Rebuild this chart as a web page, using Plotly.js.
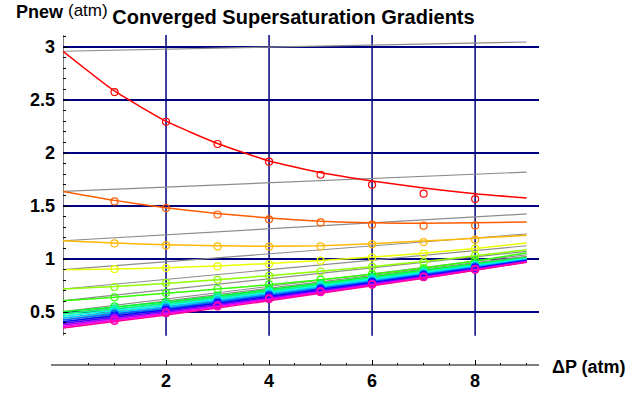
<!DOCTYPE html>
<html>
<head>
<meta charset="utf-8">
<script src="https://cdn.plot.ly/plotly-3.0.1.min.js"></script>
<style>html,body{margin:0;padding:0;background:#fff;}#chart{width:641px;height:396px;}</style>
</head>
<body>
<div id="chart"></div>
<script>
// ---------- data ----------
const dP    = [0, 1, 2, 3, 4, 5, 6, 7, 8, 9];      // fitted curve abscissae
const dPpts = [1, 2, 3, 4, 5, 6, 7, 8];            // computed points
const grayX = [0, 9];

const colors = ['#FF0000','#FF5C00','#FFB800','#EBFF00','#8FFF00','#33FF00','#00FF29','#00FF85',
                '#00FFE0','#00C2FF','#0066FF','#000AFF','#5200FF','#AD00FF','#FF00F5','#FF0099'];

const fit1  = [2.96, 2.585, 2.30, 2.09, 1.925, 1.815, 1.735, 1.67, 1.615, 1.575];
const fit2  = [1.638, 1.553, 1.483, 1.43, 1.387, 1.356, 1.341, 1.337, 1.341, 1.349];
const fit3  = [1.172, 1.15, 1.135, 1.125, 1.12, 1.125, 1.145, 1.17, 1.195, 1.223];
const fit4  = [0.899, 0.905, 0.918, 0.935, 0.958, 0.986, 1.018, 1.055, 1.10, 1.151];
const fit5  = [0.717, 0.74, 0.77, 0.805, 0.843, 0.884, 0.928, 0.977, 1.03, 1.088];
const fit6  = [0.607, 0.64, 0.677, 0.716, 0.758, 0.804, 0.855, 0.915, 0.982, 1.057];
const fit7  = [0.503, 0.548, 0.594, 0.652, 0.712, 0.772, 0.832, 0.893, 0.955, 1.015];
const fit8  = [0.482, 0.53, 0.578, 0.637, 0.698, 0.758, 0.82, 0.882, 0.945, 1.008];
const fit9  = [0.462, 0.513, 0.563, 0.623, 0.684, 0.746, 0.809, 0.872, 0.937, 1.002];
const fit10 = [0.443, 0.496, 0.548, 0.609, 0.671, 0.734, 0.798, 0.863, 0.929, 0.996];
const fit11 = [0.425, 0.48, 0.534, 0.596, 0.659, 0.723, 0.788, 0.854, 0.921, 0.99];
const fit12 = [0.408, 0.465, 0.52, 0.583, 0.647, 0.712, 0.778, 0.845, 0.914, 0.985];
const fit13 = [0.392, 0.45, 0.507, 0.571, 0.636, 0.702, 0.769, 0.837, 0.907, 0.98];
const fit14 = [0.377, 0.436, 0.495, 0.56, 0.626, 0.693, 0.761, 0.83, 0.901, 0.976];
const fit15 = [0.363, 0.423, 0.483, 0.549, 0.616, 0.684, 0.753, 0.823, 0.895, 0.973];
const fit16 = [0.349, 0.41, 0.472, 0.538, 0.606, 0.676, 0.747, 0.819, 0.893, 0.97];

const pts1  = [2.575, 2.295, 2.085, 1.918, 1.795, 1.70, 1.616, 1.565];
const pts2  = [1.543, 1.48, 1.42, 1.374, 1.345, 1.324, 1.314, 1.317];
const pts3  = [1.147, 1.128, 1.119, 1.116, 1.119, 1.138, 1.16, 1.182];
const pts4  = [0.905, 0.915, 0.93, 0.953, 0.984, 1.015, 1.05, 1.097];
const pts5  = [0.736, 0.774, 0.804, 0.842, 0.882, 0.925, 0.97, 1.035];
const pts6  = [0.638, 0.679, 0.717, 0.76, 0.805, 0.855, 0.912, 0.99];
const pts7  = [0.553, 0.596, 0.655, 0.715, 0.772, 0.835, 0.895, 0.962];
const pts8  = [0.535, 0.58, 0.64, 0.70, 0.76, 0.822, 0.885, 0.95];
const pts9  = [0.518, 0.566, 0.626, 0.687, 0.748, 0.811, 0.875, 0.94];
const pts10 = [0.50, 0.551, 0.612, 0.674, 0.736, 0.80, 0.866, 0.932];
const pts11 = [0.484, 0.537, 0.599, 0.662, 0.725, 0.79, 0.857, 0.925];
const pts12 = [0.469, 0.523, 0.586, 0.65, 0.715, 0.781, 0.849, 0.918];
const pts13 = [0.455, 0.511, 0.575, 0.64, 0.706, 0.773, 0.841, 0.911];
const pts14 = [0.442, 0.50, 0.565, 0.631, 0.698, 0.766, 0.835, 0.905];
const pts15 = [0.428, 0.492, 0.558, 0.626, 0.692, 0.761, 0.831, 0.902];
const pts16 = [0.415, 0.488, 0.553, 0.622, 0.687, 0.757, 0.828, 0.899];

const grayEnd = [3.047, 1.82, 1.425, 1.236, 1.125, 1.072, 1.04, 1.025, 1.015, 1.005,
                 0.995, 0.99, 0.985, 0.98, 0.975, 0.97];

const xTickVals  = [2, 4, 6, 8];
const xTickText  = ['2', '4', '6', '8'];
const xMinorVals = [0.5, 1, 1.5, 2.5, 3, 3.5, 4.5, 5, 5.5, 6.5, 7, 7.5, 8.5, 9];
const yTickVals  = [0.5, 1, 1.5, 2, 2.5, 3];
const yTickText  = ['0.5', '1', '1.5', '2', '2.5', '3'];
const yMinorVals = [0.3, 0.4, 0.6, 0.7, 0.8, 0.9, 1.1, 1.2, 1.3, 1.4, 1.6, 1.7, 1.8, 1.9,
                    2.1, 2.2, 2.3, 2.4, 2.6, 2.7, 2.8, 2.9, 3.1];

const titleText = 'Converged Supersaturation Gradients';
const yLabelMain = 'Pnew';
const yLabelUnit = '(atm)';
const xLabelText = '\u0394P (atm)';

// ---------- chart ----------
const fits = [fit1, fit2, fit3, fit4, fit5, fit6, fit7, fit8, fit9, fit10, fit11, fit12, fit13, fit14, fit15, fit16];
const ptss = [pts1, pts2, pts3, pts4, pts5, pts6, pts7, pts8, pts9, pts10, pts11, pts12, pts13, pts14, pts15, pts16];

const traces = [];
fits.forEach((f, i) => {
  traces.push({x: grayX, y: [f[0], grayEnd[i]], mode: 'lines', type: 'scatter',
    line: {color: '#8c8c8c', width: 1.2}, hoverinfo: 'skip'});
});
fits.forEach((f, i) => {
  traces.push({x: dP, y: f, mode: 'lines', type: 'scatter',
    line: {color: colors[i], width: 1.5, shape: 'spline', smoothing: 0.5}, hoverinfo: 'skip'});
  traces.push({x: dPpts, y: ptss[i], mode: 'markers', type: 'scatter',
    marker: {symbol: 'circle-open', size: 7, color: colors[i], line: {width: 1.2, color: colors[i]}},
    hoverinfo: 'skip'});
});

const L = 63, R = 102, T = 35, B = 31, W = 641, H = 396;
const PX = px => (px - L) / (W - L - R);
const PY = py => (H - B - py) / (H - T - B);
const YMAX = (H - T - B) / 106;
const font = 'Arial, "Liberation Sans", Helvetica, sans-serif';

const shapes = xTickVals.map(v => ({type: 'line', xref: 'x', yref: 'y', x0: v, x1: v, y0: 0.277, y1: YMAX,
  line: {color: '#000080', width: 1.5}, layer: 'below'}));
shapes.push({type: 'line', xref: 'x', yref: 'y', x0: 0, x1: 0, y0: 0.277, y1: YMAX,
  line: {color: '#000', width: 1}, layer: 'below'});
shapes.push({type: 'line', xref: 'paper', yref: 'paper', x0: PX(51), x1: 1, y0: 0, y1: 0,
  line: {color: '#000', width: 1.2}, layer: 'above'});

const layout = {
  width: W, height: H,
  margin: {l: L, r: R, t: T, b: B, pad: 0},
  paper_bgcolor: '#fff', plot_bgcolor: '#fff',
  showlegend: false,
  title: {text: titleText, xref: 'container', yref: 'container', x: 293.5 / W, xanchor: 'center',
    y: 1 - 17 / H, yanchor: 'middle', font: {family: font, size: 20, weight: 'bold', color: '#000'}},
  xaxis: {range: [0, 9.24], showgrid: false, zeroline: false, showline: false,
    tickmode: 'array', tickvals: xTickVals, ticktext: xTickText,
    ticks: 'inside', ticklen: 5, tickwidth: 1, tickcolor: '#000', ticklabelstandoff: 3,
    tickfont: {family: font, size: 18, weight: 'bold', color: '#000'},
    minor: {tickmode: 'array', tickvals: xMinorVals, ticks: 'inside', ticklen: 2.5, tickwidth: 1, tickcolor: '#000', showgrid: false},
    fixedrange: true},
  yaxis: {range: [0, YMAX], showgrid: true, gridcolor: '#000080', gridwidth: 1.5, zeroline: false, showline: false,
    tickmode: 'array', tickvals: yTickVals, ticktext: yTickText,
    ticks: 'inside', ticklen: 5, tickwidth: 1, tickcolor: '#000', ticklabelstandoff: 7,
    tickfont: {family: font, size: 18, weight: 'bold', color: '#000'},
    minor: {tickmode: 'array', tickvals: yMinorVals, ticks: 'inside', ticklen: 3, tickwidth: 1, tickcolor: '#000', showgrid: false},
    fixedrange: true},
  shapes: shapes,
  annotations: [
    {text: yLabelMain, xref: 'paper', yref: 'paper', x: PX(14), y: PY(12), xanchor: 'left', yanchor: 'middle',
      showarrow: false, font: {family: font, size: 18, weight: 'bold', color: '#000'}},
    {text: yLabelUnit, xref: 'paper', yref: 'paper', x: PX(66), y: PY(11), xanchor: 'left', yanchor: 'middle',
      showarrow: false, font: {family: font, size: 17, color: '#000'}},
    {text: xLabelText, xref: 'paper', yref: 'paper', x: PX(550), y: PY(367), xanchor: 'left', yanchor: 'middle',
      showarrow: false, font: {family: font, size: 18, weight: 'bold', color: '#000'}}
  ]
};

Plotly.newPlot('chart', traces, layout, {staticPlot: true, displayModeBar: false});
</script>
</body>
</html>
